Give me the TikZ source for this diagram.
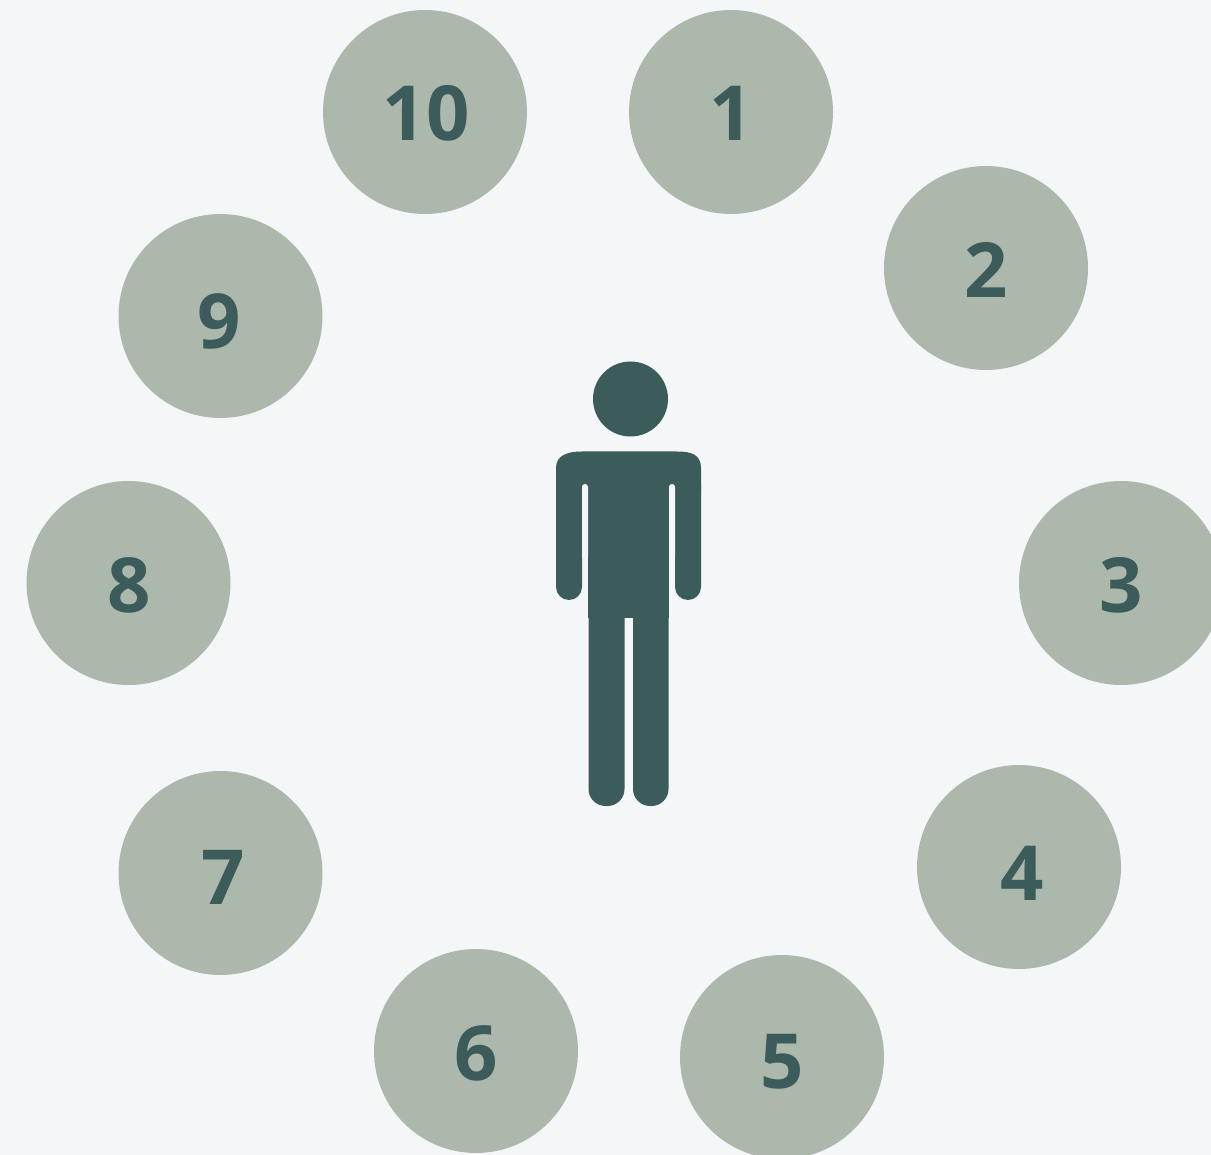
\documentclass[tikz,border=0pt]{standalone}
\usepackage{fontspec}
\setmainfont{Open Sans}
\definecolor{bggray}{RGB}{244,246,248}
\definecolor{discgray}{RGB}{173,184,172}
\definecolor{darkteal}{RGB}{59,92,90}
\tikzset{disc/.style={circle, fill=discgray, minimum size=204pt, inner sep=0pt},
    num/.style={text=darkteal, inner sep=0pt, font=\fontsize{76}{76}\bfseries\selectfont}}

\begin{document}
\begin{tikzpicture}[x=1pt, y=-1pt]
        \fill[bggray] (0,0) rectangle (1211,1155);
        \useasboundingbox (0,0) rectangle (1211,1155);
        \begin{scope}
        \clip (0,0) rectangle (1211,1155);
        \node[disc] (n1) at (731,112) {};
        \node[disc] (n2) at (986,268) {};
        \node[disc] (n3) at (1121,583) {};
        \node[disc] (n4) at (1019,867) {};
        \node[disc] (n5) at (782,1057) {};
        \node[disc] (n6) at (476,1051) {};
        \node[disc] (n7) at (220.5,873) {};
        \node[disc] (n8) at (128.5,583) {};
        \node[disc] (n9) at (220.5,316) {};
        \node[disc] (n10) at (425,112) {};
        \end{scope}
        \node[num] (t1) at (731,113) {1};
        \node[num] (t2) at (986,270) {2};
        \node[num] (t3) at (1121,585) {3};
        \node[num] (t4) at (1022,873) {4};
        \node[num] (t5) at (782,1062) {5};
        \node[num] (t6) at (476,1053) {6};
        \node[num] (t7) at (223,877) {7};
        \node[num] (t8) at (129,585) {8};
        \node[num] (t9) at (219,321) {9};
        \node[num] (t10) at (426,113) {10};
        % figure in the middle
        \fill[darkteal] (630.5,399) circle (37.5);
        \fill[darkteal] (556,468) .. controls (556,455) and (568,451.5) .. (582,451.5) -- (677,451.5) .. controls (692,451.5) and (701,455) .. (701,468) -- (701,495) -- (556,495) -- cycle;
        \fill[darkteal, rounded corners=13pt] (556,470) rectangle (582,600);
        \fill[darkteal, rounded corners=13pt] (675,470) rectangle (701,600);
        \fill[darkteal] (588,470) rectangle (669,618);
        \fill[darkteal, rounded corners=17pt] (588.5,590) rectangle (624.5,806);
        \fill[darkteal, rounded corners=17pt] (633,590) rectangle (668.5,806);
        \fill[bggray, rounded corners=2.9pt] (582,484) rectangle (588,560);
        \fill[bggray, rounded corners=2.9pt] (669,484) rectangle (675,560);
    \end{tikzpicture}
\end{document}
